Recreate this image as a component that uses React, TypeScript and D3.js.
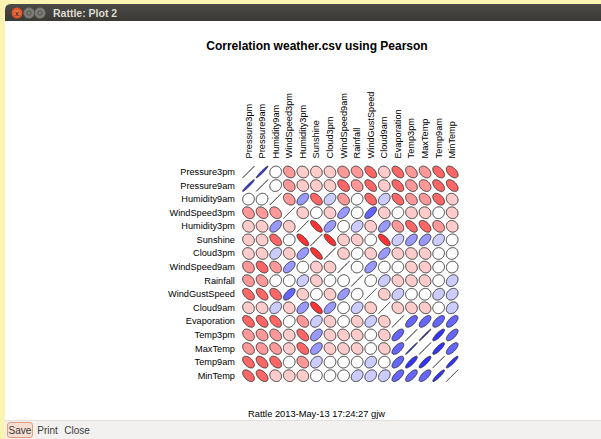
import * as d3 from "d3";
import { useEffect, useRef } from "react";

const variables = [
  "Pressure3pm",
  "Pressure9am",
  "Humidity9am",
  "WindSpeed3pm",
  "Humidity3pm",
  "Sunshine",
  "Cloud3pm",
  "WindSpeed9am",
  "Rainfall",
  "WindGustSpeed",
  "Cloud9am",
  "Evaporation",
  "Temp3pm",
  "MaxTemp",
  "Temp9am",
  "MinTemp",
];

// upper triangle: correlation of each variable with the ones listed after it
const rowPressure3pm = [0.97, 0.05, -0.3, -0.12, -0.1, -0.15, -0.25, -0.3, -0.5, -0.15, -0.5, -0.35, -0.35, -0.5, -0.5];
const rowPressure9am = [0.1, -0.3, -0.15, -0.1, -0.15, -0.45, -0.3, -0.55, -0.15, -0.5, -0.3, -0.3, -0.5, -0.5];
const rowHumidity9am = [-0.3, 0.5, -0.5, 0.3, -0.3, 0.1, -0.45, 0.3, -0.5, -0.35, -0.35, -0.45, -0.15];
const rowWindSpeed3pm = [-0.1, 0.05, -0.1, 0.55, 0.05, 0.65, -0.1, 0.1, -0.1, -0.1, 0.05, -0.1];
const rowHumidity3pm = [-0.75, 0.5, 0.05, 0.3, -0.1, 0.5, -0.35, -0.55, -0.5, -0.3, -0.1];
const rowSunshine = [-0.75, -0.1, -0.15, 0.05, -0.7, 0.3, 0.5, 0.5, 0.3, 0.05];
const rowCloud3pm = [-0.1, 0.1, -0.1, 0.55, -0.1, -0.15, -0.15, 0.05, 0.1];
const rowWindSpeed9am = [0.05, 0.55, 0.05, 0.05, -0.15, -0.15, 0.05, 0.05];
const rowRainfall = [0.1, 0.3, -0.15, -0.15, -0.15, 0.05, 0.25];
const rowWindGustSpeed = [-0.1, 0.3, 0.05, 0.05, 0.25, 0.25];
const rowCloud9am = [-0.15, -0.15, -0.15, 0.05, 0.25];
const rowEvaporation = [0.65, 0.65, 0.65, 0.65];
const rowTemp3pm = [0.99, 0.85, 0.7];
const rowMaxTemp = [0.85, 0.7];
const rowTemp9am = [0.92];

const upperRows = [
  rowPressure3pm, rowPressure9am, rowHumidity9am, rowWindSpeed3pm, rowHumidity3pm,
  rowSunshine, rowCloud3pm, rowWindSpeed9am, rowRainfall, rowWindGustSpeed,
  rowCloud9am, rowEvaporation, rowTemp3pm, rowMaxTemp, rowTemp9am,
];

const plotTitle = "Correlation weather.csv using Pearson";
const footer = "Rattle 2013-May-13 17:24:27 gjw";
const windowTitle = "Rattle: Plot 2";
const buttons = ["Save", "Print", "Close"];

function CorrelationPlot() {
  const ref = useRef<SVGSVGElement>(null);

  useEffect(() => {
    const W = 601;
    const H = 439;
    const font = "'Liberation Sans', Arial, sans-serif";
    const svg = d3.select(ref.current);
    svg.selectAll("*").remove();

    // desktop + window frame
    svg.append("rect").attr("width", W).attr("height", H).attr("fill", "#fbf3b2");
    svg.append("rect").attr("x", 5).attr("y", 20).attr("width", W - 5).attr("height", H - 20).attr("fill", "#ffffff");

    const defs = svg.append("defs");
    const grad = defs.append("linearGradient").attr("id", "bar").attr("x1", 0).attr("y1", 0).attr("x2", 0).attr("y2", 1);
    grad.append("stop").attr("offset", 0).attr("stop-color", "#4b4a46");
    grad.append("stop").attr("offset", 1).attr("stop-color", "#3a3935");
    svg
      .append("path")
      .attr("d", `M5,21 L5,10 Q5,4 11,4 L${W},4 L${W},21 Z`)
      .attr("fill", "url(#bar)");

    const closeGrad = defs.append("radialGradient").attr("id", "closeBtn");
    closeGrad.append("stop").attr("offset", 0).attr("stop-color", "#f28a5c");
    closeGrad.append("stop").attr("offset", 1).attr("stop-color", "#d9491f");
    svg.append("circle").attr("cx", 17).attr("cy", 13).attr("r", 5.5).attr("fill", "url(#closeBtn)");
    svg.append("text").attr("x", 17).attr("y", 13).attr("text-anchor", "middle").attr("dominant-baseline", "central")
      .attr("font-family", font).attr("font-size", 7).attr("font-weight", "bold").attr("fill", "#5a2a15").text("x");
    [29, 40].forEach((cx) => {
      svg.append("circle").attr("cx", cx).attr("cy", 13).attr("r", 5.5).attr("fill", "#7e7d79").attr("stroke", "#55544f").attr("stroke-width", 0.6);
      svg.append("circle").attr("cx", cx).attr("cy", 13).attr("r", 2.2).attr("fill", "none").attr("stroke", "#4a4945").attr("stroke-width", 0.8);
    });
    svg.append("text").attr("x", 53).attr("y", 16.5).attr("font-family", font).attr("font-size", 10.5)
      .attr("font-weight", "bold").attr("fill", "#dfdbd2").text(windowTitle);

    // bottom button bar
    svg.append("rect").attr("x", 5).attr("y", 420).attr("width", W - 5).attr("height", 19).attr("fill", "#f2f1f0");
    svg.append("line").attr("x1", 5).attr("x2", W).attr("y1", 420.5).attr("y2", 420.5).attr("stroke", "#e2e0dc");
    svg.append("rect").attr("x", 7.5).attr("y", 422.5).attr("width", 25).attr("height", 15).attr("rx", 2.5)
      .attr("fill", "#f5ddd0").attr("stroke", "#e69c7c");
    const btnX = [20, 47.5, 77];
    buttons.forEach((b, i) => {
      svg.append("text").attr("x", btnX[i]).attr("y", 434).attr("text-anchor", "middle")
        .attr("font-family", font).attr("font-size", 10).attr("fill", "#3c3c3c").text(b);
    });

    // correlation matrix
    const n = variables.length;
    const corr: number[][] = d3.range(n).map(() => d3.range(n).map(() => 1));
    upperRows.forEach((row, i) => {
      row.forEach((r, k) => {
        const j = i + 1 + k;
        corr[i][j] = r;
        corr[j][i] = r;
      });
    });

    const cell = 13.58;
    const x0 = 248.5;
    const y0 = 172;
    const xScale = d3.scaleBand().domain(variables).range([x0 - cell / 2, x0 - cell / 2 + n * cell]);
    const yScale = d3.scaleBand().domain(variables).range([y0 - cell / 2, y0 - cell / 2 + n * cell]);

    const palette = d3.quantize(d3.piecewise(d3.interpolateRgb, ["red", "white", "blue"]), 11);
    const colorOf = (r: number) => palette[Math.max(0, Math.min(10, Math.floor(5 * r + 6 + 1e-9) - 1))];

    const t = 0.43 * cell;
    const line = d3.line().curve(d3.curveLinearClosed);
    const ellipse = (cx: number, cy: number, r: number) => {
      const d = Math.acos(Math.max(-1, Math.min(1, r)));
      const pts = d3.range(100).map((k) => {
        const a = (2 * Math.PI * k) / 99;
        return [cx + t * Math.cos(a + d / 2), cy - t * Math.cos(a - d / 2)] as [number, number];
      });
      return line(pts);
    };

    const cells = variables.flatMap((rv, i) => variables.map((cv, j) => ({ rv, cv, r: corr[i][j] })));
    svg
      .append("g")
      .selectAll("path")
      .data(cells)
      .enter()
      .append("path")
      .attr("d", (c) => ellipse((xScale(c.cv) as number) + cell / 2, (yScale(c.rv) as number) + cell / 2, c.r))
      .attr("fill", (c) => colorOf(c.r))
      .attr("stroke", (c) => (c.r >= 0.999 ? "#555" : "#333"))
      .attr("stroke-width", 1);

    // row labels
    svg
      .append("g")
      .selectAll("text")
      .data(variables)
      .enter()
      .append("text")
      .attr("x", x0 - cell)
      .attr("y", (v) => (yScale(v) as number) + cell / 2)
      .attr("text-anchor", "end")
      .attr("dominant-baseline", "central")
      .attr("font-family", font)
      .attr("font-size", 9.2)
      .attr("fill", "#000")
      .text((v) => v);

    // column labels
    svg
      .append("g")
      .selectAll("text")
      .data(variables)
      .enter()
      .append("text")
      .attr("transform", (v) => `translate(${(xScale(v) as number) + cell / 2},${y0 - cell}) rotate(-90)`)
      .attr("text-anchor", "start")
      .attr("dominant-baseline", "central")
      .attr("font-family", font)
      .attr("font-size", 9.2)
      .attr("fill", "#000")
      .text((v) => v);

    svg.append("text").attr("x", 317).attr("y", 50).attr("text-anchor", "middle").attr("font-family", font)
      .attr("font-size", 12).attr("font-weight", "bold").attr("fill", "#000").text(plotTitle);

    svg.append("text").attr("x", 316.5).attr("y", 417).attr("text-anchor", "middle").attr("font-family", font)
      .attr("font-size", 9.3).attr("fill", "#000").text(footer);
  }, []);

  return <svg ref={ref} width={601} height={439} style={{ position: "absolute", left: 0, top: 0 }} />;
}

export default function App() {
  return <CorrelationPlot />;
}
